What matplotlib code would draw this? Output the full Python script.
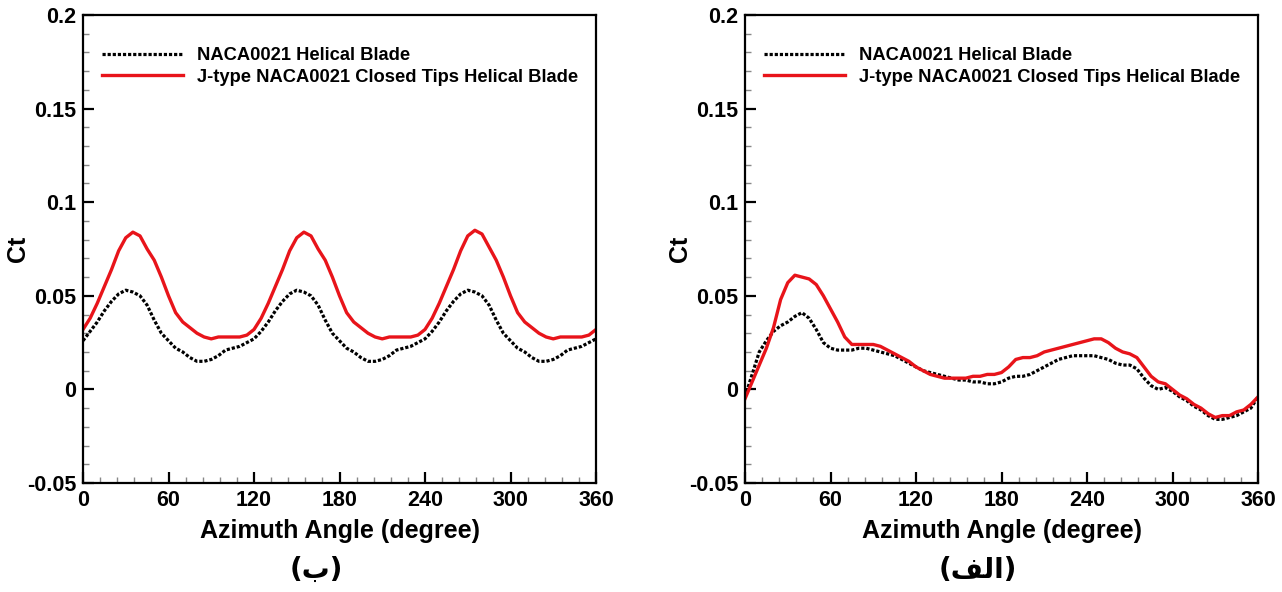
import numpy as np
import matplotlib.pyplot as plt
from matplotlib.ticker import MultipleLocator, FuncFormatter

# Azimuth grid (degree), 5 degree steps
angle = np.arange(0, 365, 5)

# Left panel (b): NACA0021 helical blade, three repeating peaks
left_naca = [
    0.026, 0.031, 0.036, 0.042, 0.047, 0.051, 0.053, 0.052, 0.050, 0.045, 0.037, 0.030,
    0.026, 0.022, 0.020, 0.017, 0.015, 0.015, 0.016, 0.018, 0.021, 0.022, 0.023, 0.025,
    0.027, 0.031, 0.036, 0.042, 0.047, 0.051, 0.053, 0.052, 0.050, 0.045, 0.037, 0.030,
    0.026, 0.022, 0.020, 0.017, 0.015, 0.015, 0.016, 0.018, 0.021, 0.022, 0.023, 0.025,
    0.027, 0.031, 0.036, 0.042, 0.047, 0.051, 0.053, 0.052, 0.050, 0.045, 0.037, 0.030,
    0.026, 0.022, 0.020, 0.017, 0.015, 0.015, 0.016, 0.018, 0.021, 0.022, 0.023, 0.025,
    0.027,
]
left_jtype = [
    0.032, 0.038, 0.046, 0.055, 0.064, 0.074, 0.081, 0.084, 0.082, 0.075, 0.069, 0.060,
    0.050, 0.041, 0.036, 0.033, 0.030, 0.028, 0.027, 0.028, 0.028, 0.028, 0.028, 0.029,
    0.032, 0.038, 0.046, 0.055, 0.064, 0.074, 0.081, 0.084, 0.082, 0.075, 0.069, 0.060,
    0.050, 0.041, 0.036, 0.033, 0.030, 0.028, 0.027, 0.028, 0.028, 0.028, 0.028, 0.029,
    0.032, 0.038, 0.046, 0.055, 0.064, 0.074, 0.082, 0.085, 0.083, 0.076, 0.069, 0.060,
    0.050, 0.041, 0.036, 0.033, 0.030, 0.028, 0.027, 0.028, 0.028, 0.028, 0.028, 0.029,
    0.032,
]

# Right panel (alef)
right_naca = [
    -0.004, 0.008, 0.020, 0.026, 0.031, 0.034, 0.036, 0.039, 0.041, 0.038, 0.032, 0.025,
    0.022, 0.021, 0.021, 0.021, 0.022, 0.022, 0.021, 0.020, 0.019, 0.018, 0.016, 0.014,
    0.012, 0.010, 0.009, 0.008, 0.007, 0.006, 0.005, 0.005, 0.004, 0.004, 0.003, 0.003,
    0.004, 0.006, 0.007, 0.007, 0.008, 0.010, 0.012, 0.014, 0.016, 0.017, 0.018, 0.018,
    0.018, 0.018, 0.017, 0.016, 0.014, 0.013, 0.013, 0.011, 0.006, 0.002, 0.000, 0.001,
    -0.001, -0.004, -0.006, -0.009, -0.011, -0.014, -0.016, -0.016, -0.015, -0.014, -0.012, -0.010,
    -0.004,
]
right_jtype = [
    -0.005, 0.004, 0.013, 0.022, 0.033, 0.048, 0.057, 0.061, 0.060, 0.059, 0.056, 0.050,
    0.043, 0.036, 0.028, 0.024, 0.024, 0.024, 0.024, 0.023, 0.021, 0.019, 0.017, 0.015,
    0.012, 0.010, 0.008, 0.007, 0.006, 0.006, 0.006, 0.006, 0.007, 0.007, 0.008, 0.008,
    0.009, 0.012, 0.016, 0.017, 0.017, 0.018, 0.020, 0.021, 0.022, 0.023, 0.024, 0.025,
    0.026, 0.027, 0.027, 0.025, 0.022, 0.020, 0.019, 0.017, 0.012, 0.007, 0.004, 0.003,
    0.000, -0.003, -0.005, -0.008, -0.010, -0.013, -0.015, -0.014, -0.014, -0.012, -0.011, -0.008,
    -0.004,
]

labels = ['NACA0021 Helical Blade', 'J-type NACA0021 Closed Tips Helical Blade']
# captions in visual order (pre-shaped Arabic)
captions = ['(\u0628)', '(\ufed2\ufedf\u0627)']

plt.rcParams['font.family'] = ['Liberation Sans', 'DejaVu Sans']
plt.rcParams['font.weight'] = 'bold'

fig = plt.figure(figsize=(12.82, 5.92), dpi=100)
W, H = 1282, 592
panels = [
    (83, left_naca, left_jtype, captions[0]),
    (745, right_naca, right_jtype, captions[1]),
]

for x0, naca, jtype, cap in panels:
    ax = fig.add_axes([x0 / W, 1 - 483 / H, 513 / W, 468 / H])
    ax.plot(angle, naca, color='black', linestyle=(0, (1, 0.6)), linewidth=2.3, label=labels[0])
    ax.plot(angle, jtype, color='#e8141a', linewidth=2.4, label=labels[1])
    ax.set_xlim(0, 360)
    ax.set_ylim(-0.05, 0.2)
    ax.xaxis.set_major_locator(MultipleLocator(60))
    ax.xaxis.set_minor_locator(MultipleLocator(12))
    ax.yaxis.set_major_locator(MultipleLocator(0.05))
    ax.yaxis.set_minor_locator(MultipleLocator(0.01))
    ax.yaxis.set_major_formatter(FuncFormatter(lambda v, p: '0' if abs(v) < 1e-9 else '%g' % round(v, 3)))
    ax.tick_params(which='major', direction='in', length=8, width=1.6, labelsize=15.5, pad=5)
    ax.tick_params(which='minor', direction='in', length=4, width=1.0, color='#888888')
    for lab in ax.get_xticklabels() + ax.get_yticklabels():
        lab.set_fontweight('bold')
    for sp in ax.spines.values():
        sp.set_linewidth(1.6)
    ax.set_xlabel('Azimuth Angle (degree)', fontsize=18, fontweight='bold', labelpad=6)
    ax.set_ylabel('Ct', fontsize=18, fontweight='bold')
    ax.yaxis.set_label_coords(-53 / 513, 0.5)
    ax.legend(loc='upper left', bbox_to_anchor=(19 / 513, (483 - 47) / 468), frameon=False,
              prop={'size': 13.2, 'weight': 'bold'}, handlelength=4.4,
              handletextpad=0.8, labelspacing=0.25, borderaxespad=0, borderpad=0)
    fig.text((x0 + 233) / W, 1 - 570 / H, cap, ha='center', va='center',
             fontsize=20, fontweight='bold', family=['DejaVu Sans'])

fig.savefig('out.png', dpi=100)
